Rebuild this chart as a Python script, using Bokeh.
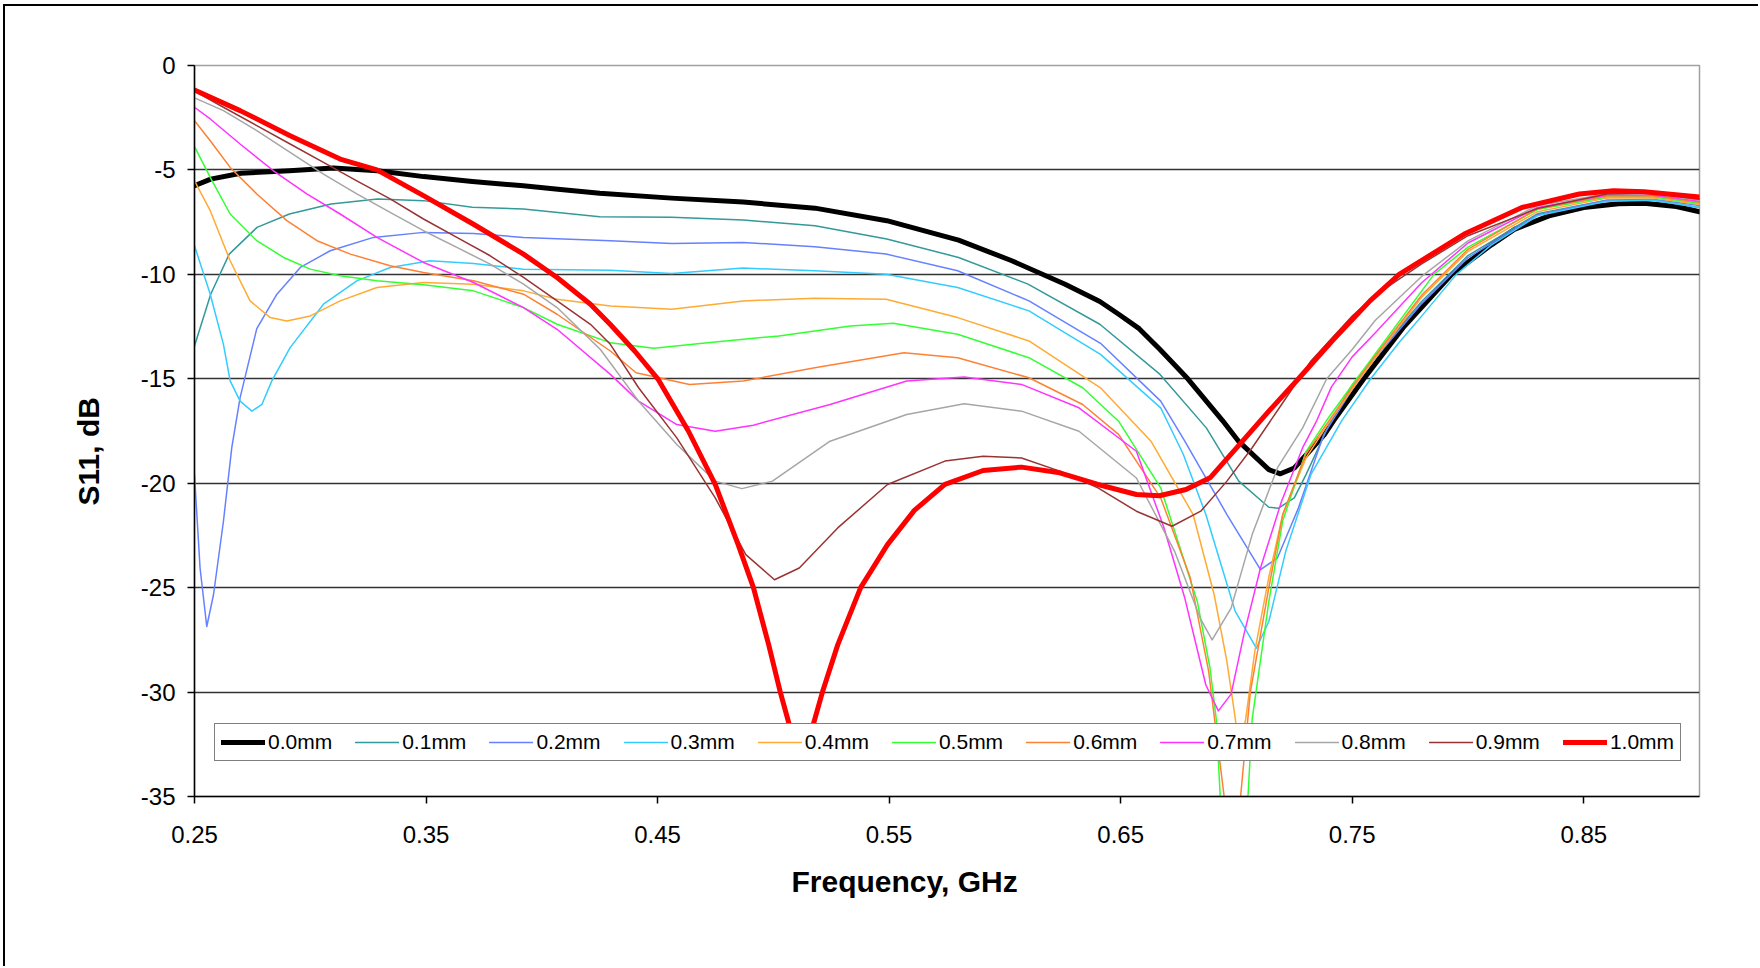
from bokeh.plotting import figure
from bokeh.models import FixedTicker, Legend, LegendItem, Range1d, Title
from bokeh.embed import file_html
from bokeh.resources import INLINE

labels = ["0.0mm", "0.1mm", "0.2mm", "0.3mm", "0.4mm", "0.5mm",
          "0.6mm", "0.7mm", "0.8mm", "0.9mm", "1.0mm"]
colors = ["#000000", "#339999", "#6680FF", "#33CCFF", "#FFAA33", "#33FF33",
          "#FF8033", "#FF33FF", "#A6A6A6", "#993333", "#FF0000"]
widths = [5, 1.5, 1.5, 1.5, 1.5, 1.5, 1.5, 1.5, 1.5, 1.5, 5]

x_ticks = [0.25, 0.35, 0.45, 0.55, 0.65, 0.75, 0.85]
y_ticks = [-35, -30, -25, -20, -15, -10, -5, 0]
y_tick_labels = ["-35", "-30", "-25", "-20", "-15", "-10", "-5", "0"]
x_title = "Frequency, GHz"
y_title = "S11, dB"

f00 = [0.25,0.257,0.27,0.291,0.31,0.329,0.349,0.37,0.392,0.407,0.425,0.456,0.487,0.518,0.549,0.58,0.603,0.626,0.641,0.649,0.658,0.667,0.679,0.694,0.701,0.714,0.719,0.725,0.738,0.742,0.755,0.772,0.793,0.81,0.82,0.835,0.85,0.865,0.876,0.89,0.90]
s00 = [-5.76,-5.44,-5.16,-5.04,-4.91,-5.04,-5.32,-5.55,-5.76,-5.92,-6.12,-6.35,-6.54,-6.83,-7.43,-8.36,-9.35,-10.47,-11.3,-11.9,-12.6,-13.6,-15.0,-17.0,-18.0,-19.35,-19.55,-19.27,-17.67,-17.0,-15.0,-12.55,-10.0,-8.6,-7.85,-7.2,-6.8,-6.62,-6.6,-6.75,-7.0]

f01 = [0.25,0.257,0.265,0.277,0.291,0.309,0.329,0.349,0.37,0.392,0.425,0.456,0.487,0.518,0.549,0.58,0.61,0.641,0.667,0.687,0.701,0.714,0.718,0.725,0.73,0.74,0.75,0.76,0.78,0.80,0.83,0.86,0.88,0.90]
s01 = [-13.43,-10.95,-9.03,-7.75,-7.11,-6.63,-6.39,-6.47,-6.79,-6.87,-7.24,-7.27,-7.40,-7.67,-8.31,-9.19,-10.47,-12.39,-14.79,-17.35,-19.9,-21.15,-21.2,-20.7,-19.6,-17.2,-15.3,-13.9,-11.3,-9.1,-7.1,-6.45,-6.45,-6.8]

f02 = [0.25,0.2524,0.2553,0.2582,0.2625,0.2661,0.2697,0.2769,0.2856,0.2957,0.3086,0.3273,0.3489,0.3705,0.3921,0.4296,0.4561,0.487,0.5179,0.5487,0.5796,0.6104,0.6413,0.6673,0.6777,0.6959,0.7104,0.7177,0.7268,0.7377,0.75,0.76,0.78,0.80,0.83,0.86,0.88,0.90]
s02 = [-19.6,-24.06,-26.86,-25.34,-21.82,-18.3,-15.9,-12.6,-10.95,-9.67,-8.87,-8.23,-7.99,-8.04,-8.23,-8.39,-8.52,-8.47,-8.68,-9.03,-9.83,-11.27,-13.3,-16.07,-17.99,-21.5,-24.14,-23.58,-21.18,-17.67,-15.5,-14.0,-11.4,-9.2,-7.15,-6.45,-6.4,-6.7]

f03 = [0.25,0.2568,0.2625,0.2654,0.2697,0.2748,0.2791,0.2834,0.2913,0.3057,0.3201,0.3345,0.3518,0.3705,0.3921,0.4296,0.4561,0.487,0.5179,0.5487,0.5796,0.6104,0.6413,0.6673,0.677,0.6868,0.6995,0.7086,0.714,0.7213,0.7322,0.7455,0.758,0.77,0.78,0.795,0.81,0.83,0.86,0.88,0.90]
s03 = [-8.63,-10.95,-13.35,-15.1,-16.07,-16.55,-16.23,-15.1,-13.51,-11.43,-10.31,-9.67,-9.35,-9.48,-9.75,-9.8,-9.96,-9.7,-9.83,-9.99,-10.63,-11.75,-13.83,-16.39,-18.6,-21.5,-26.14,-27.9,-26.62,-23.26,-19.58,-17.0,-15.0,-13.3,-12.0,-10.0,-8.6,-7.2,-6.5,-6.45,-6.8]

f04 = [0.25,0.2568,0.2654,0.274,0.2827,0.2899,0.30,0.3129,0.3288,0.3489,0.3705,0.3921,0.4066,0.4296,0.4561,0.487,0.5179,0.5487,0.5796,0.6104,0.6413,0.6631,0.6813,0.6904,0.6959,0.6995,0.701,0.704,0.708,0.714,0.72,0.73,0.7405,0.75,0.76,0.78,0.80,0.83,0.86,0.88,0.90]
s04 = [-5.52,-6.95,-9.35,-11.27,-12.07,-12.23,-11.99,-11.27,-10.63,-10.39,-10.47,-10.79,-11.19,-11.51,-11.67,-11.27,-11.14,-11.19,-12.07,-13.19,-15.43,-17.99,-21.5,-25.34,-28.54,-31.26,-32.8,-31.3,-28.0,-24.5,-21.5,-18.8,-17.0,-15.5,-14.0,-11.1,-8.9,-7.0,-6.35,-6.35,-6.65]

f05 = [0.25,0.2568,0.2654,0.2769,0.2885,0.30,0.3129,0.3288,0.3489,0.3705,0.3921,0.4066,0.4296,0.4484,0.4716,0.5024,0.5333,0.5518,0.5796,0.6104,0.6336,0.6491,0.6673,0.6831,0.6886,0.6913,0.693,0.699,0.705,0.7068,0.714,0.72,0.73,0.7389,0.75,0.76,0.7853,0.80,0.83,0.86,0.88,0.90]
s05 = [-3.88,-5.36,-7.11,-8.39,-9.19,-9.75,-10.07,-10.31,-10.5,-10.79,-11.59,-12.39,-13.27,-13.54,-13.27,-12.95,-12.47,-12.34,-12.87,-13.99,-15.43,-17.03,-20.22,-25.66,-28.86,-31.3,-35.0,-42.0,-35.0,-31.3,-25.66,-21.8,-18.5,-17.0,-15.3,-13.8,-10.0,-8.7,-6.9,-6.3,-6.3,-6.6]

f06 = [0.25,0.2568,0.2654,0.2769,0.2899,0.3029,0.3173,0.3345,0.3489,0.3705,0.3921,0.4066,0.4296,0.4407,0.4638,0.487,0.5179,0.5564,0.5796,0.6104,0.6336,0.6491,0.6673,0.68,0.688,0.6947,0.698,0.7018,0.706,0.714,0.72,0.73,0.74,0.75,0.76,0.78,0.80,0.83,0.86,0.88,0.90]
s06 = [-2.64,-3.6,-4.88,-6.15,-7.43,-8.39,-9.03,-9.59,-9.91,-10.31,-10.95,-11.91,-13.67,-14.71,-15.27,-15.11,-14.47,-13.75,-13.99,-14.95,-16.23,-17.66,-20.7,-24.5,-29.0,-35.0,-38.0,-35.0,-30.0,-25.0,-21.5,-18.6,-17.0,-15.4,-13.9,-11.0,-8.8,-6.85,-6.25,-6.25,-6.55]

f07 = [0.25,0.2568,0.2697,0.2841,0.2985,0.3129,0.3288,0.3489,0.3705,0.3921,0.4066,0.4296,0.4418,0.4583,0.4749,0.4914,0.5245,0.5576,0.5824,0.6072,0.632,0.6568,0.6686,0.6777,0.6868,0.6922,0.6977,0.7032,0.7104,0.7195,0.7286,0.7347,0.741,0.75,0.76,0.78,0.80,0.83,0.86,0.88,0.90]
s07 = [-2.0,-2.56,-3.76,-5.04,-6.15,-7.11,-8.23,-9.43,-10.39,-11.59,-12.63,-14.79,-16.07,-17.19,-17.51,-17.22,-16.23,-15.11,-14.92,-15.27,-16.39,-18.47,-22.1,-25.5,-29.66,-30.9,-30.1,-27.26,-24.06,-20.86,-18.3,-17.0,-15.4,-13.95,-12.8,-10.4,-8.5,-6.8,-6.2,-6.2,-6.5]

f08 = [0.25,0.2625,0.2769,0.2913,0.3057,0.3201,0.3345,0.3489,0.3633,0.3777,0.3921,0.4066,0.4253,0.4418,0.4583,0.4749,0.4864,0.4996,0.5245,0.5576,0.5824,0.6072,0.632,0.6568,0.6733,0.6845,0.6895,0.6977,0.7068,0.7177,0.7286,0.739,0.75,0.76,0.78,0.80,0.83,0.86,0.88,0.90]
s08 = [-1.55,-2.16,-3.12,-4.16,-5.2,-6.15,-7.03,-7.91,-8.71,-9.51,-10.47,-11.59,-13.6,-16.07,-18.15,-19.9,-20.26,-19.9,-17.99,-16.71,-16.2,-16.55,-17.51,-19.75,-23.26,-26.5,-27.5,-25.98,-22.46,-19.27,-17.35,-15.0,-13.6,-12.2,-10.1,-8.4,-6.7,-6.15,-6.15,-6.45]

f09 = [0.25,0.2625,0.2769,0.2913,0.3057,0.3201,0.3345,0.3489,0.3633,0.3777,0.3921,0.4066,0.421,0.4296,0.4418,0.4583,0.4749,0.4881,0.5005,0.5112,0.5278,0.5493,0.5741,0.5906,0.6072,0.6237,0.6402,0.6568,0.6722,0.6846,0.6959,0.7068,0.7195,0.7322,0.75,0.76,0.78,0.80,0.83,0.86,0.88,0.90]
s09 = [-1.23,-2.0,-2.88,-3.76,-4.64,-5.52,-6.39,-7.35,-8.23,-9.11,-10.15,-11.27,-12.39,-13.35,-15.43,-17.83,-20.7,-23.42,-24.62,-24.06,-22.14,-20.06,-18.94,-18.71,-18.79,-19.42,-20.22,-21.34,-22.06,-21.34,-19.9,-18.3,-16.23,-14.15,-12.0,-11.0,-9.5,-8.15,-6.85,-6.15,-6.1,-6.4]

f10 = [0.25,0.2697,0.2913,0.3129,0.3288,0.3489,0.3705,0.3921,0.4066,0.421,0.4296,0.4401,0.4501,0.4633,0.4749,0.4848,0.4914,0.498,0.503,0.5071,0.512,0.517,0.5212,0.5278,0.5377,0.5493,0.5609,0.5741,0.5906,0.6072,0.6237,0.6402,0.6568,0.6667,0.6782,0.6886,0.7013,0.714,0.7268,0.7413,0.7577,0.7703,0.7984,0.8233,0.8481,0.8629,0.8761,0.90]
s10 = [-1.17,-2.16,-3.36,-4.48,-5.0,-6.23,-7.6,-9.03,-10.15,-11.43,-12.4,-13.67,-15.0,-17.5,-20.06,-22.94,-25.0,-27.74,-30.0,-31.65,-33.0,-31.65,-30.0,-27.74,-25.0,-22.94,-21.3,-20.06,-19.39,-19.23,-19.5,-20.06,-20.54,-20.6,-20.3,-19.74,-18.15,-16.55,-15.0,-13.19,-11.27,-10.0,-8.07,-6.8,-6.15,-6.0,-6.05,-6.3]

freqs = [f00, f01, f02, f03, f04, f05, f06, f07, f08, f09, f10]
s11s = [s00, s01, s02, s03, s04, s05, s06, s07, s08, s09, s10]

FONT = "Liberation Sans"

p = figure(width=1755, height=962, output_backend="svg", toolbar_location=None,
           x_range=Range1d(0.25, 0.9), y_range=Range1d(-35, 0),
           min_border_left=189, min_border_right=61, min_border_top=59,
           min_border_bottom=172, background_fill_color="white",
           border_fill_color="white")
p.styles = {"margin-left": "3px", "margin-top": "4px",
            "border-left": "2px solid #000", "border-top": "2px solid #000"}

p.outline_line_color = "#a0a0a0"
p.outline_line_width = 1.5

p.xgrid.visible = False
p.ygrid.ticker = FixedTicker(ticks=[-30, -25, -20, -15, -10, -5])
p.ygrid.grid_line_color = "#333333"
p.ygrid.grid_line_width = 1.5

for ax in (p.xaxis[0], p.yaxis[0]):
    ax.axis_line_color = "black"
    ax.axis_line_width = 1.5
    ax.major_tick_line_color = "black"
    ax.major_tick_line_width = 1.5
    ax.major_tick_in = 0
    ax.major_tick_out = 7
    ax.minor_tick_line_color = None
    ax.major_label_text_font = FONT
    ax.major_label_text_font_size = "24px"
    ax.major_label_text_color = "black"

p.xaxis.ticker = FixedTicker(ticks=x_ticks)
p.yaxis.ticker = FixedTicker(ticks=y_ticks)
p.yaxis.major_label_overrides = {t: s for t, s in zip(y_ticks, y_tick_labels)}
p.xaxis.major_label_standoff = 22
p.yaxis.major_label_standoff = 12

# axis titles, placed where the reference has them (not centred on the frame)
p.add_layout(Title(text=x_title, align="left", offset=597, standoff=35,
                   text_font=FONT, text_font_size="30px", text_font_style="bold",
                   text_color="black"), "below")
p.add_layout(Title(text=y_title, align="left", offset=291, standoff=66,
                   text_font=FONT, text_font_size="30px", text_font_style="bold",
                   text_color="black"), "left")

items = []
for lab, col, w, fx, sy in zip(labels, colors, widths, freqs, s11s):
    r = p.line(fx, sy, line_color=col, line_width=w, line_join="round", line_cap="round")
    items.append(LegendItem(label=lab, renderers=[r]))

legend = Legend(items=items, orientation="horizontal", location=(20, 35),
                border_line_color="black", border_line_width=1.5,
                background_fill_color="white", background_fill_alpha=1.0,
                label_text_font=FONT, label_text_font_size="21px",
                label_text_color="black", glyph_width=44, glyph_height=20,
                label_standoff=3, spacing=23, padding=6, margin=0)
p.add_layout(legend)

open("out.html", "w").write(file_html(p, INLINE))
